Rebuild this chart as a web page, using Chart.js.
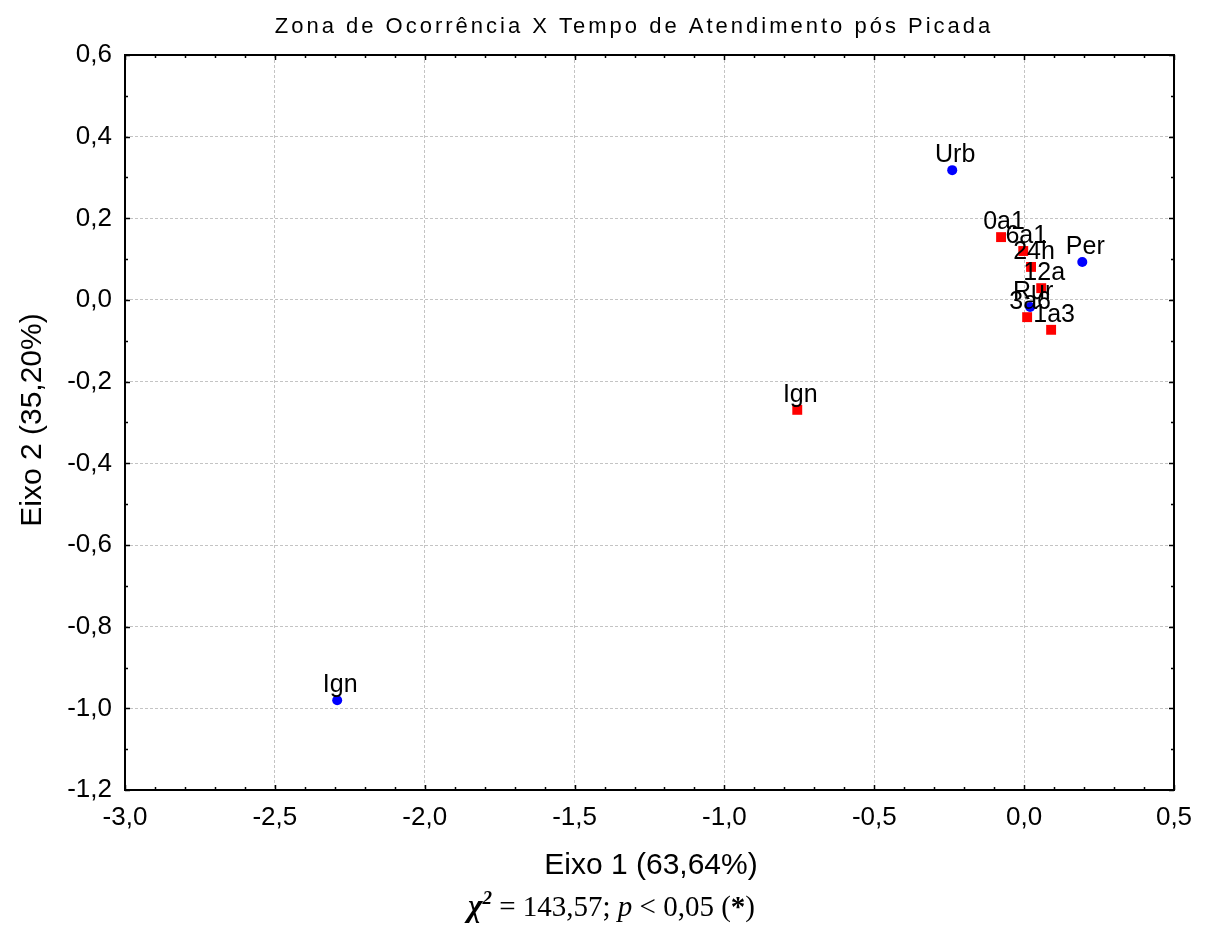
<!DOCTYPE html>
<html>
<head>
<meta charset="utf-8">
<script src="https://cdn.jsdelivr.net/npm/chart.js@4.4.1/dist/chart.umd.min.js"></script>
<style>
  html, body { margin: 0; padding: 0; background: #fff; }
  #wrap { width: 1206px; height: 931px; }
</style>
</head>
<body>
<div id="wrap"><canvas id="chart"></canvas></div>
<script>
// zona de ocorrência (blue dots)
var zonaLabels = ["Urb", "Per", "Rur", "Ign"];
var zonaX = [-0.24, 0.194, 0.02, -2.292];
var zonaY = [0.318, 0.093, -0.017, -0.98];

// tempo de atendimento (red squares)
var tempoLabels = ["0a1", "6a1", "24h", "12a", "3a6", "1a3", "Ign"];
var tempoX = [-0.077, -0.003, 0.023, 0.057, 0.01, 0.09, -0.757];
var tempoY = [0.154, 0.12, 0.081, 0.029, -0.042, -0.073, -0.269];

var xMin = -3.0, xMax = 0.5, xStep = 0.5;
var yMin = -1.2, yMax = 0.6, yStep = 0.2;

var chartTitle = "Zona de Ocorrência X Tempo de Atendimento pós Picada";
var xTitle = "Eixo 1 (63,64%)";
var yTitle = "Eixo 2 (35,20%)";

function toPoints(xs, ys) {
    var pts = [];
    for (var i = 0; i < xs.length; i++) pts.push({ x: xs[i], y: ys[i] });
    return pts;
}

function fmt(v) {
    return v.toFixed(1).replace(".", ",");
}

var FONT = "'Liberation Sans', Arial, sans-serif";
var SERIF = "'Liberation Serif', 'Times New Roman', serif";

var decorPlugin = {
    id: "decor",
    afterDatasetsDraw: function (chart) {
        var ctx = chart.ctx;
        var a = chart.chartArea;
        var xs = chart.scales.x, ys = chart.scales.y;
        ctx.save();
        // frame
        ctx.strokeStyle = "#000";
        ctx.lineWidth = 2;
        ctx.strokeRect(a.left, a.top, a.right - a.left, a.bottom - a.top);
        // ticks, all pointing inside
        ctx.lineWidth = 1.5;
        ctx.beginPath();
        for (var i = 0; i <= Math.round((xMax - xMin) / 0.1); i++) {
            var v = xMin + i * 0.1;
            var px = Math.round(xs.getPixelForValue(v)) + 0.5;
            var len = (i % 5 === 0) ? 5 : 3;
            ctx.moveTo(px, a.bottom); ctx.lineTo(px, a.bottom - len);
            ctx.moveTo(px, a.top); ctx.lineTo(px, a.top + len);
        }
        for (var j = 0; j <= Math.round((yMax - yMin) / 0.1); j++) {
            var w = yMin + j * 0.1;
            var py = Math.round(ys.getPixelForValue(w)) + 0.5;
            var l2 = (j % 2 === 0) ? 5 : 3;
            ctx.moveTo(a.left, py); ctx.lineTo(a.left + l2, py);
            ctx.moveTo(a.right, py); ctx.lineTo(a.right - l2, py);
        }
        ctx.stroke();

        // point labels
        ctx.fillStyle = "#000";
        ctx.font = "25px " + FONT;
        ctx.textAlign = "center";
        ctx.textBaseline = "alphabetic";
        chart.data.datasets.forEach(function (ds, di) {
            var meta = chart.getDatasetMeta(di);
            meta.data.forEach(function (el, k) {
                ctx.fillText(ds.names[k], el.x + 3, el.y - 8);
            });
        });

        // title
        ctx.font = "22px " + FONT;
        ctx.letterSpacing = "3px";
        ctx.textBaseline = "middle";
        ctx.fillText(chartTitle, 634, 27);
        ctx.letterSpacing = "0px";

        // axis titles
        ctx.font = "30px " + FONT;
        ctx.fillText(xTitle, 651, 866);
        ctx.save();
        ctx.translate(33, 420);
        ctx.rotate(-Math.PI / 2);
        ctx.fillText(yTitle, 0, 0);
        ctx.restore();

        // chi-square line
        ctx.textAlign = "left";
        ctx.textBaseline = "alphabetic";
        var base = 916;
        var x0 = 468;
        var parts = [
            ["\u03C7", "italic bold 31px " + SERIF, 0],
            ["2", "italic bold 19px " + SERIF, -12],
            [" = 143,57; ", "29px " + SERIF, 0],
            ["p", "italic 29px " + SERIF, 0],
            [" < 0,05 (", "29px " + SERIF, 0],
            ["*", "bold 29px " + SERIF, 0],
            [")", "29px " + SERIF, 0]
        ];
        parts.forEach(function (p) {
            ctx.font = p[1];
            ctx.fillText(p[0], x0, base + p[2]);
            x0 += ctx.measureText(p[0]).width;
        });
        ctx.restore();
    }
};

var config = {
    type: "scatter",
    data: {
        datasets: [
            {
                label: "Zona",
                names: zonaLabels,
                data: toPoints(zonaX, zonaY),
                pointStyle: "circle",
                pointRadius: 5,
                backgroundColor: "#0000ff",
                borderColor: "#0000ff",
                borderWidth: 0
            },
            {
                label: "Tempo",
                names: tempoLabels,
                data: toPoints(tempoX, tempoY),
                pointStyle: "rect",
                pointRadius: 7,
                backgroundColor: "#ff0000",
                borderColor: "#ff0000",
                borderWidth: 0
            }
        ]
    },
    options: {
        responsive: true,
        maintainAspectRatio: false,
        animation: false,
        layout: { padding: { left: 0, right: 32, top: 55, bottom: 0 } },
        plugins: {
            legend: { display: false },
            tooltip: { enabled: false },
            title: { display: false }
        },
        scales: {
            x: {
                type: "linear",
                min: xMin,
                max: xMax,
                afterFit: function (s) { s.height = 141; },
                ticks: {
                    stepSize: xStep,
                    color: "#000",
                    padding: 12,
                    font: { family: FONT, size: 26 },
                    maxRotation: 0,
                    callback: function (v) { return fmt(v); }
                },
                grid: {
                    color: "#c4c4c4",
                    lineWidth: 1,
                    drawTicks: false
                },
                border: { display: false, dash: [3, 2] }
            },
            y: {
                type: "linear",
                min: yMin,
                max: yMax,
                afterFit: function (s) { s.width = 125; },
                ticks: {
                    stepSize: yStep,
                    color: "#000",
                    padding: 13,
                    font: { family: FONT, size: 26 },
                    callback: function (v) { return fmt(v); }
                },
                grid: {
                    color: "#c4c4c4",
                    lineWidth: 1,
                    drawTicks: false
                },
                border: { display: false, dash: [3, 2] }
            }
        }
    },
    plugins: [decorPlugin]
};

var chart = new Chart("chart", config);
</script>
</body>
</html>
